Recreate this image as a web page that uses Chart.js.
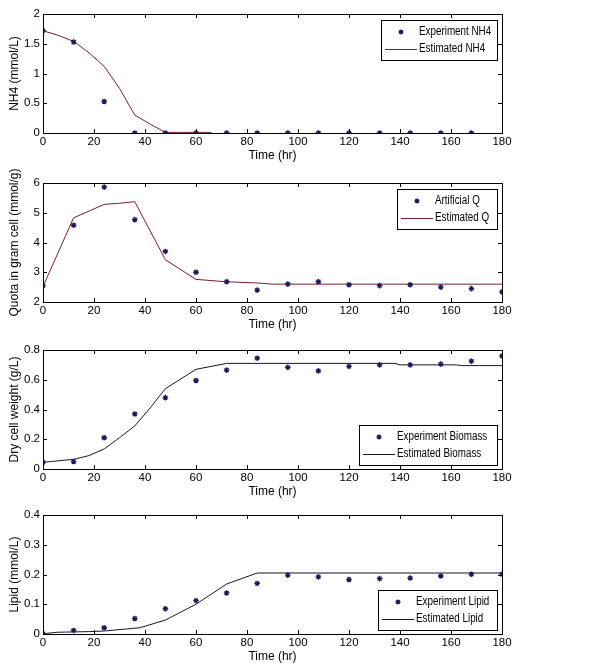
<!DOCTYPE html>
<html>
<head>
<meta charset="utf-8">
<script src="https://cdn.jsdelivr.net/npm/chart.js@4.4.1/dist/chart.umd.min.js"></script>
<style>
  body { margin: 0; background: #fff; width: 609px; height: 672px; position: relative; overflow: hidden; }
  .panel { position: absolute; left: 0; width: 609px; height: 168px; }
</style>
</head>
<body>
<div class="panel" style="top:0px"><canvas id="nh4Chart" width="609" height="168"></canvas></div>
<div class="panel" style="top:169px"><canvas id="quotaChart" width="609" height="168"></canvas></div>
<div class="panel" style="top:336px"><canvas id="biomassChart" width="609" height="168"></canvas></div>
<div class="panel" style="top:501px"><canvas id="lipidChart" width="609" height="168"></canvas></div>
<script>
// sampling times (hr)
const sampleTimes = [0, 12, 24, 36, 48, 60, 72, 84, 96, 108, 120, 132, 144, 156, 168, 180];

// NH4
const nh4Measured = [1.72, 1.53, 0.53, 0, 0, 0, 0, 0, 0, 0, 0, 0, 0, 0, 0];
const nh4FitTimes = [0, 6, 12, 18, 24, 30, 36, 42, 48, 54, 60, 66];
const nh4Fit = [1.72, 1.64, 1.54, 1.35, 1.12, 0.75, 0.30, 0.15, 0.01, 0.01, 0.01, 0.01];

// quota
const quotaMeasured = [2.55, 4.58, 5.86, 4.77, 3.70, 3.00, 2.68, 2.40, 2.60, 2.68, 2.58, 2.55, 2.58, 2.50, 2.45, 2.34];
const quotaFitTimes = [0, 12, 24, 30, 36, 48, 60, 72, 84, 90, 180];
const quotaFit = [2.52, 4.83, 5.28, 5.32, 5.37, 3.42, 2.76, 2.68, 2.64, 2.60, 2.60];

// biomass
const biomassMeasured = [0.045, 0.05, 0.21, 0.37, 0.48, 0.595, 0.665, 0.745, 0.683, 0.66, 0.69, 0.70, 0.70, 0.705, 0.725, 0.76];
const biomassFitTimes = [0, 12, 18, 24, 30, 36, 42, 48, 60, 72, 138, 140, 162, 164, 180];
const biomassFit = [0.045, 0.065, 0.09, 0.135, 0.21, 0.29, 0.41, 0.54, 0.67, 0.71, 0.71, 0.70, 0.70, 0.695, 0.695];

// lipid
const lipidMeasured = [0.001, 0.012, 0.021, 0.052, 0.085, 0.112, 0.138, 0.17, 0.198, 0.192, 0.183, 0.186, 0.188, 0.195, 0.201, 0.201];
const lipidFitTimes = [0, 6, 18, 24, 38, 48, 60, 72, 84, 180];
const lipidFit = [0.001, 0.006, 0.008, 0.01, 0.021, 0.047, 0.10, 0.168, 0.205, 0.205];

const FONT = "'Liberation Sans', Arial, sans-serif";
const markerColor = '#1c1c5c';

function pairs(xs, ys) {
  return ys.map((y, i) => ({ x: xs[i], y: y }));
}

// matlab style frame with inward ticks on all four sides
const framePlugin = {
  id: 'frame',
  afterDraw(chart) {
    const ctx = chart.ctx, a = chart.chartArea;
    const xs = chart.scales.x, ys = chart.scales.y;
    ctx.save();
    ctx.strokeStyle = '#000';
    ctx.lineWidth = 1;
    ctx.strokeRect(Math.round(a.left) + 0.5, Math.round(a.top) + 0.5, Math.round(a.right - a.left), Math.round(a.bottom - a.top));
    ctx.beginPath();
    xs.ticks.forEach(t => {
      const px = Math.round(xs.getPixelForValue(t.value)) + 0.5;
      ctx.moveTo(px, a.bottom); ctx.lineTo(px, a.bottom - 4);
      ctx.moveTo(px, a.top); ctx.lineTo(px, a.top + 4);
    });
    ys.ticks.forEach(t => {
      const py = Math.round(ys.getPixelForValue(t.value)) + 0.5;
      ctx.moveTo(a.left, py); ctx.lineTo(a.left + 4, py);
      ctx.moveTo(a.right, py); ctx.lineTo(a.right - 4, py);
    });
    ctx.stroke();
    ctx.restore();
  }
};

// legend box drawn inside the plot area
const boxLegendPlugin = {
  id: 'boxLegend',
  afterDraw(chart, args, opts) {
    const ctx = chart.ctx, a = chart.chartArea;
    const w = opts.width, h = 40;
    const left = Math.round(a.right - 5 - w);
    const top = opts.corner === 'br' ? Math.round(a.bottom - 4 - h) : Math.round(a.top + 6);
    ctx.save();
    ctx.fillStyle = '#fff';
    ctx.fillRect(left, top, w, h);
    ctx.strokeStyle = '#000';
    ctx.lineWidth = 1;
    ctx.strokeRect(left + 0.5, top + 0.5, w, h);
    const ds = chart.data.datasets;
    const y1 = top + 12, y2 = top + 29;
    drawStar(ctx, left + 20, y1, 2.5, ds[0].borderColor);
    ctx.strokeStyle = ds[1].borderColor;
    ctx.beginPath();
    ctx.moveTo(left + 4, y2 + 0.5); ctx.lineTo(left + 36, y2 + 0.5);
    ctx.stroke();
    // condensed text like the original figure
    ctx.font = '12px ' + FONT;
    ctx.textBaseline = 'middle';
    ctx.fillStyle = '#000';
    ctx.translate(left + 38, 0);
    ctx.scale(0.82, 1);
    ctx.fillText(ds[0].label, 0, y1);
    ctx.fillText(ds[1].label, 0, y2);
    ctx.restore();
  }
};

function drawStar(ctx, x, y, r, color) {
  ctx.save();
  ctx.strokeStyle = color;
  ctx.lineWidth = 1.3;
  ctx.beginPath();
  ctx.moveTo(x - r, y); ctx.lineTo(x + r, y);
  ctx.moveTo(x, y - r); ctx.lineTo(x, y + r);
  ctx.moveTo(x - r * 0.7, y - r * 0.7); ctx.lineTo(x + r * 0.7, y + r * 0.7);
  ctx.moveTo(x - r * 0.7, y + r * 0.7); ctx.lineTo(x + r * 0.7, y - r * 0.7);
  ctx.stroke();
  ctx.restore();
}

function tickText(v) {
  return String(+Number(v).toFixed(2));
}

function makePanel(id, opts) {
  return new Chart(document.getElementById(id), {
    type: 'scatter',
    data: {
      datasets: [{
        label: opts.expLabel,
        data: pairs(sampleTimes, opts.measured),
        pointStyle: 'star',
        pointRadius: 2.8,
        borderWidth: 1.3,
        borderColor: markerColor,
        backgroundColor: markerColor,
        showLine: false
      }, {
        label: opts.fitLabel,
        data: pairs(opts.fitTimes, opts.fit),
        showLine: true,
        pointRadius: 0,
        borderWidth: 1,
        borderColor: opts.lineColor,
        tension: 0
      }]
    },
    options: {
      responsive: false,
      animation: false,
      layout: { padding: { top: 14, right: 107, left: 0, bottom: 5 } },
      plugins: {
        legend: { display: false },
        tooltip: { enabled: false },
        boxLegend: { corner: opts.legendCorner, width: opts.legendWidth }
      },
      scales: {
        x: {
          type: 'linear',
          min: 0, max: 180,
          grid: { display: false, drawTicks: false, tickLength: 0 },
          border: { display: false },
          ticks: { stepSize: 20, color: '#000', padding: 2, maxRotation: 0, font: { family: FONT, size: 11.5 }, callback: tickText },
          title: { display: true, text: 'Time (hr)', color: '#000', padding: { top: 0, bottom: 0 }, font: { family: FONT, size: 12 } },
          afterFit(scale) { scale.height = 30; }
        },
        y: {
          min: opts.yMin, max: opts.yMax,
          grid: { display: false, drawTicks: false, tickLength: 0 },
          border: { display: false },
          ticks: { stepSize: opts.yStep, color: '#000', padding: 3, font: { family: FONT, size: 11.5 }, callback: tickText },
          title: { display: true, text: opts.yTitle, color: '#000', padding: { top: 7, bottom: 0 }, font: { family: FONT, size: 12 } },
          afterFit(scale) { scale.width = 43; }
        }
      }
    },
    plugins: [framePlugin, boxLegendPlugin]
  });
}

makePanel('nh4Chart', {
  expLabel: 'Experiment NH4', fitLabel: 'Estimated NH4',
  measured: nh4Measured, fitTimes: nh4FitTimes, fit: nh4Fit,
  lineColor: '#7a1f2b', yMin: 0, yMax: 2, yStep: 0.5,
  yTitle: 'NH4 (mmol/L)', legendCorner: 'tr', legendWidth: 116
});
makePanel('quotaChart', {
  expLabel: 'Artificial Q', fitLabel: 'Estimated Q',
  measured: quotaMeasured, fitTimes: quotaFitTimes, fit: quotaFit,
  lineColor: '#7a1f2b', yMin: 2, yMax: 6, yStep: 1,
  yTitle: 'Quota in gram cell (mmol/g)', legendCorner: 'tr', legendWidth: 100
});
makePanel('biomassChart', {
  expLabel: 'Experiment Biomass', fitLabel: 'Estimated Biomass',
  measured: biomassMeasured, fitTimes: biomassFitTimes, fit: biomassFit,
  lineColor: '#161630', yMin: 0, yMax: 0.8, yStep: 0.2,
  yTitle: 'Dry cell weight (g/L)', legendCorner: 'br', legendWidth: 138
});
makePanel('lipidChart', {
  expLabel: 'Experiment Lipid', fitLabel: 'Estimated Lipid',
  measured: lipidMeasured, fitTimes: lipidFitTimes, fit: lipidFit,
  lineColor: '#161630', yMin: 0, yMax: 0.4, yStep: 0.1,
  yTitle: 'Lipid (mmol/L)', legendCorner: 'br', legendWidth: 119
});
</script>
</body>
</html>
